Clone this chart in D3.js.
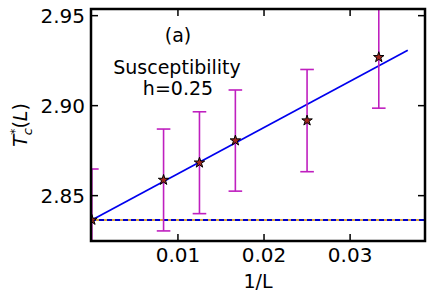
<!DOCTYPE html>
<html><head><meta charset="utf-8">
<script src="https://cdn.jsdelivr.net/npm/d3@7"></script>
<style>body{margin:0;background:#fff}svg{display:block}text{font-family:"DejaVu Sans",sans-serif;fill:#000}</style>
</head><body>
<svg id="c" width="434" height="300"></svg>
<script>
// data
const invL = [0, 0.00833, 0.0125, 0.01667, 0.025, 0.03333];
const Tc   = [2.8365, 2.8587, 2.8683, 2.8806, 2.8917, 2.9269];
const errT = [0.0283, 0.0283, 0.0283, 0.0281, 0.0284, 0.0283];
const fitX = [0, 0.0367];
const fitY = [2.8365, 2.9308];
const hlineY = 2.8365;
const xTicks = [0.01, 0.02, 0.03];
const yTicks = [2.85, 2.90, 2.95];

const W=434,H=300, L=91, R=425, T=9, B=241;
const svg=d3.select("#c");
const x=d3.scaleLinear().domain([-0.0001,0.0387]).range([L,R]);
const y=d3.scaleLinear().domain([2.8248,2.9537]).range([B,T]);

svg.append("clipPath").attr("id","clip").append("rect")
  .attr("x",L).attr("y",T).attr("width",R-L).attr("height",B-T);
const g=svg.append("g").attr("clip-path","url(#clip)");

// horizontal line: orange solid beneath blue dashes
g.append("line").attr("x1",L).attr("x2",R).attr("y1",y(hlineY)).attr("y2",y(hlineY))
  .attr("stroke","#d9a441").attr("stroke-width",2);
g.append("line").attr("x1",L).attr("x2",R).attr("y1",y(hlineY)).attr("y2",y(hlineY))
  .attr("stroke","#0000cc").attr("stroke-width",2).attr("stroke-dasharray","5,3");

// fit line
g.append("path").datum(fitX.map((d,i)=>[d,fitY[i]]))
  .attr("d",d3.line().x(d=>x(d[0])).y(d=>y(d[1])))
  .attr("fill","none").attr("stroke","#0000ee").attr("stroke-width",1.7);

// error bars
const eb=g.selectAll(".eb").data(invL.map((d,i)=>({x:d,y:Tc[i],e:errT[i]}))).enter().append("g");
const cw=6.8, ec="#bf1fbf";
eb.append("line").attr("x1",d=>x(d.x)).attr("x2",d=>x(d.x))
  .attr("y1",d=>y(d.y-d.e)).attr("y2",d=>y(d.y+d.e)).attr("stroke",ec).attr("stroke-width",1.6);
eb.append("line").attr("x1",d=>x(d.x)-cw).attr("x2",d=>x(d.x)+cw)
  .attr("y1",d=>y(d.y-d.e)).attr("y2",d=>y(d.y-d.e)).attr("stroke",ec).attr("stroke-width",1.6);
eb.append("line").attr("x1",d=>x(d.x)-cw).attr("x2",d=>x(d.x)+cw)
  .attr("y1",d=>y(d.y+d.e)).attr("y2",d=>y(d.y+d.e)).attr("stroke",ec).attr("stroke-width",1.6);

// stars
const star=d3.symbol().type(d3.symbolStar).size(34);
g.selectAll(".st").data(invL.map((d,i)=>[d,Tc[i]])).enter().append("path")
  .attr("d",star).attr("transform",d=>`translate(${x(d[0])},${y(d[1])})`)
  .attr("fill","#a3281e").attr("stroke","#000").attr("stroke-width",1);

// ticks (inward, all sides)
const tl=7;
xTicks.forEach(t=>{
  svg.append("line").attr("x1",x(t)).attr("x2",x(t)).attr("y1",B).attr("y2",B-tl).attr("stroke","#000").attr("stroke-width",1.5);
  svg.append("line").attr("x1",x(t)).attr("x2",x(t)).attr("y1",T).attr("y2",T+tl).attr("stroke","#000").attr("stroke-width",1.5);
  svg.append("text").attr("x",x(t)).attr("y",B+21).attr("text-anchor","middle").attr("font-size",20).text(d3.format(".2f")(t));
});
yTicks.forEach(t=>{
  svg.append("line").attr("x1",L).attr("x2",L+tl).attr("y1",y(t)).attr("y2",y(t)).attr("stroke","#000").attr("stroke-width",1.5);
  svg.append("line").attr("x1",R).attr("x2",R-tl).attr("y1",y(t)).attr("y2",y(t)).attr("stroke","#000").attr("stroke-width",1.5);
  svg.append("text").attr("x",L-6).attr("y",y(t)+7).attr("text-anchor","end").attr("font-size",20).text(d3.format(".2f")(t));
});

// frame
svg.append("rect").attr("x",L).attr("y",T).attr("width",R-L).attr("height",B-T)
  .attr("fill","none").attr("stroke","#000").attr("stroke-width",2.5);

// annotations
svg.append("text").attr("x",178).attr("y",42).attr("text-anchor","middle").attr("font-size",19).text("(a)");
svg.append("text").attr("x",177).attr("y",74).attr("text-anchor","middle").attr("font-size",19).text("Susceptibility");
svg.append("text").attr("x",178).attr("y",95).attr("text-anchor","middle").attr("font-size",19).text("h=0.25");

// axis labels
svg.append("text").attr("x",258).attr("y",288).attr("text-anchor","middle").attr("font-size",19).text("1/L");
const yl=svg.append("text").attr("transform","translate(27,125) rotate(-90)").attr("text-anchor","middle").attr("font-size",19);
yl.append("tspan").attr("font-style","italic").text("T");
yl.append("tspan").attr("font-style","italic").attr("font-size",13).attr("dy",5).text("c");
yl.append("tspan").attr("font-size",13).attr("dx",-7).attr("dy",-13).text("*");
yl.append("tspan").attr("dy",8).text("(");
yl.append("tspan").attr("font-style","italic").text("L");
yl.append("tspan").text(")");
</script>
</body></html>
